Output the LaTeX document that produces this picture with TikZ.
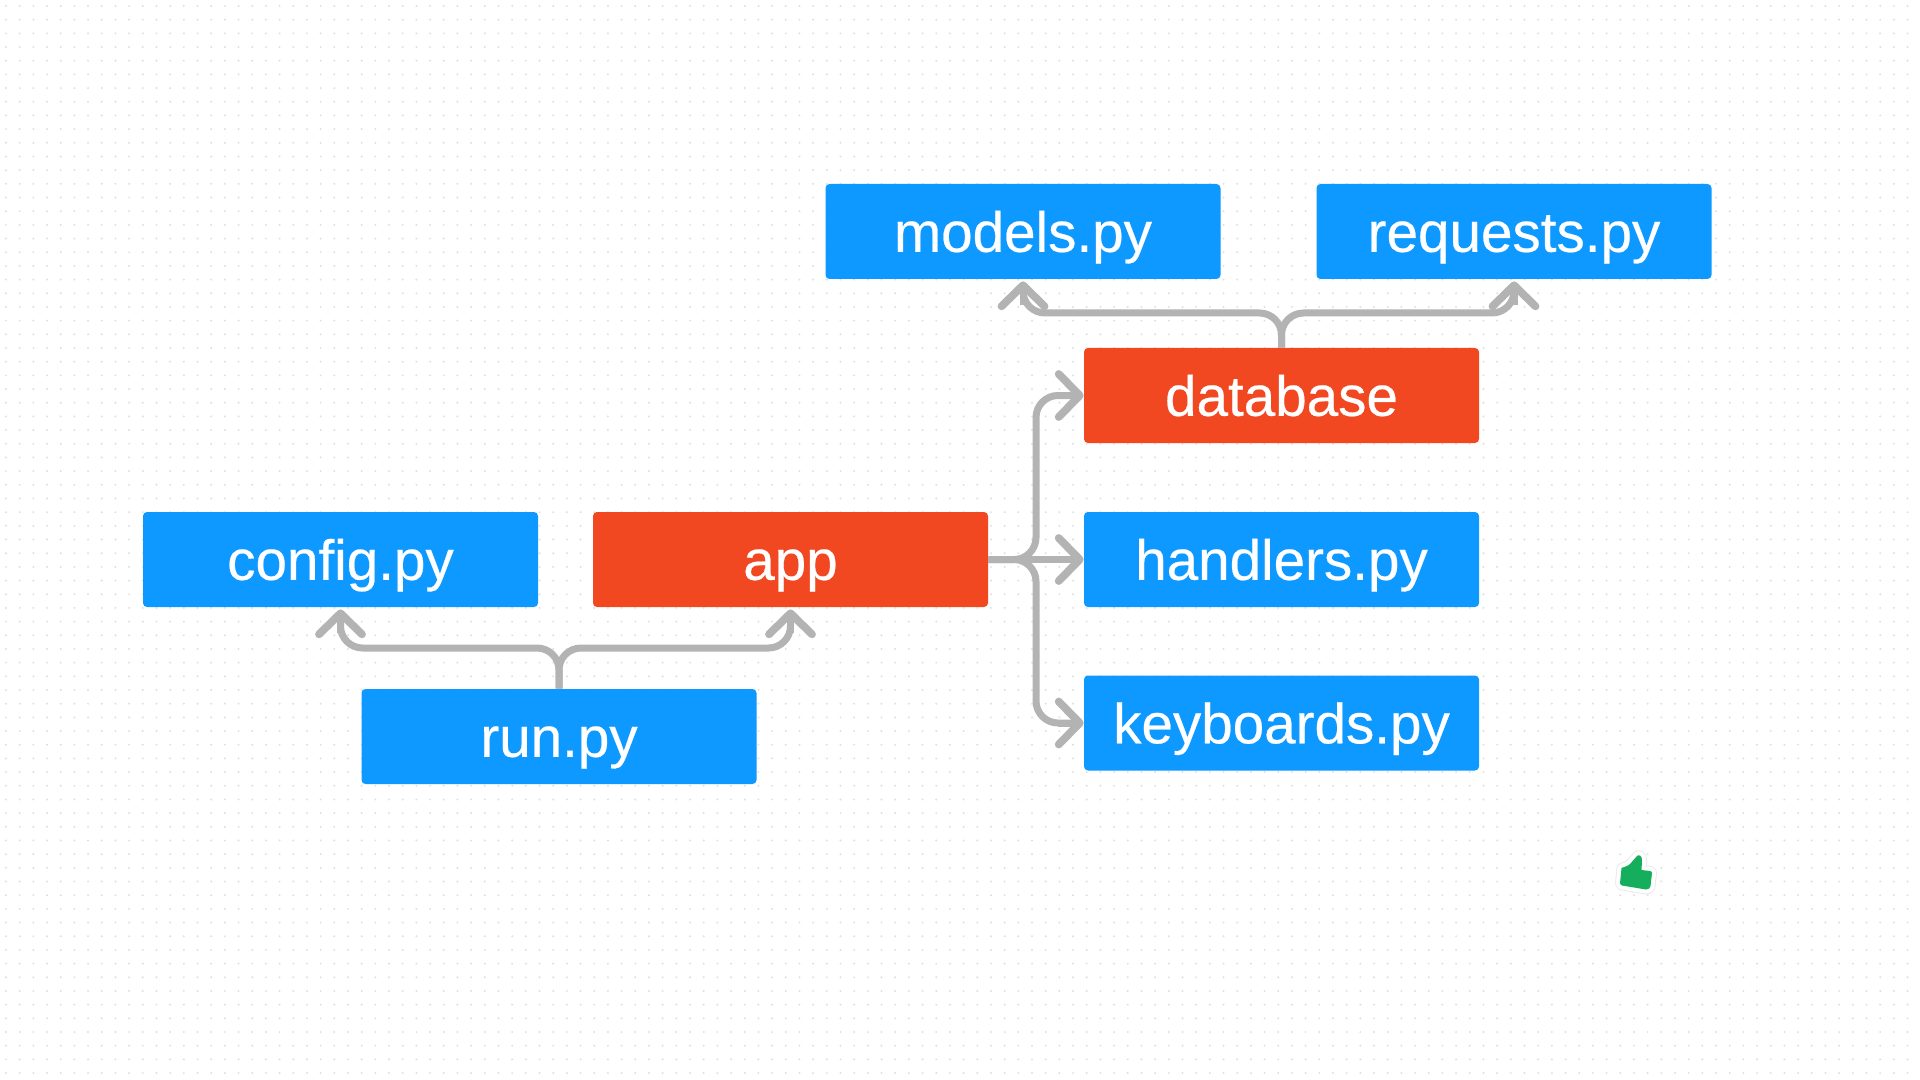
\documentclass[tikz,border=0pt]{standalone}
\usepackage{fontspec}
\setmainfont{Liberation Sans}
\newfontfamily\boxfont[FakeBold=0.4]{Liberation Sans}
\usetikzlibrary{arrows.meta,calc}
\definecolor{boxblue}{HTML}{0D99FF}
\definecolor{boxred}{HTML}{F24822}
\definecolor{linegray}{HTML}{B3B3B3}
\definecolor{dotgray}{HTML}{E0E0E0}
\definecolor{thumbgreen}{HTML}{14AE5C}
\tikzset{
  filebox/.style={rectangle,rounded corners=2pt,minimum width=197.5pt,minimum height=47.5pt,inner sep=0pt,
    text=white,font=\boxfont\fontsize{28.3}{30}\selectfont,text height=25.3pt,text depth=5pt,fill=boxblue},
  pkgbox/.style={filebox,fill=boxred},
  link/.style={draw=linegray,line width=3.5pt,rounded corners=11pt},
  upshaft/.style={link,shorten >=2pt},
  sideshaft/.style={link,shorten >=1pt},
  tipend/.style={draw=linegray,line width=3.5pt,
    -{Straight Barb[length=10.5pt,width=21.5pt,round,line width=3.9pt]}},
  uptip/.style={tipend,shorten >=1pt},
  dotrow/.style={draw=dotgray,line width=1.1pt,line cap=round,dash pattern=on 0pt off 6.84pt},
}
\begin{document}
\begin{tikzpicture}[x=0.5pt,y=-0.5pt]
\useasboundingbox (0,0) rectangle (1920,1080);
\fill[white] (0,0) rectangle (1920,1080);
% dot grid
\foreach \j in {0,...,78}{
  \draw[dotrow] (6,{6+13.68*\j}) -- (1920,{6+13.68*\j});
}
% boxes
\node[filebox] (models) at (1023,231.5) {models.py};
\node[filebox] (requests) at (1514,231.5) {requests.py};
\node[pkgbox] (database) at (1281.5,395.5) {database};
\node[filebox] (config) at (340.5,559.5) {config.py};
\node[pkgbox] (app) at (790.5,559.5) {app};
\node[filebox] (handlers) at (1281.5,559.5) {handlers.py};
\node[filebox] (keyboards) at (1281.5,723) {keyboards.py};
\node[filebox] (run) at (559,736.5) {run.py};
% connector bends
\coordinate (dbbus) at (0,313);
\coordinate (runbus) at (0,648);
\coordinate (appbus) at (1036,0);
% connector shafts
\draw[upshaft] (database.north) -- (database.north |- dbbus) -- (models.south |- dbbus) -- (models.south);
\draw[upshaft] (database.north) -- (database.north |- dbbus) -- (requests.south |- dbbus) -- (requests.south);
\draw[upshaft] (run.north) -- (run.north |- runbus) -- (config.south |- runbus) -- (config.south);
\draw[upshaft] (run.north) -- (run.north |- runbus) -- (app.south |- runbus) -- (app.south);
\draw[sideshaft] (app.east) -- (app.east -| appbus) -- (appbus |- database.west) -- (database.west);
\draw[sideshaft] (app.east) -- (handlers.west);
\draw[sideshaft] (app.east) -- (app.east -| appbus) -- (appbus |- keyboards.west) -- (keyboards.west);
% arrowheads
\foreach \t in {models,requests,config,app}{
  \draw[uptip] ([yshift=-13pt]\t.south) -- (\t.south);
}
\foreach \t in {database,handlers,keyboards}{
  \draw[tipend] ([xshift=-13pt]\t.west) -- (\t.west);
}
% thumb sticker
\def\thumbshape{(1621.5,868) -- (1620,883) .. controls (1620,884) and (1621,885) .. (1622,885.5)
  -- (1646,889.5) .. controls (1649,889.5) and (1650,888) .. (1650.5,886) -- (1652,873)
  .. controls (1652,872) and (1651,871) .. (1650,871) -- (1641.5,870) -- (1642,860)
  .. controls (1642,856) and (1639,854) .. (1637,856) -- (1630,864) .. controls (1628,866) and (1624,867) .. (1621.5,868) -- cycle}
\draw[black!8,line width=5pt,line join=round] \thumbshape;
\draw[white,line width=4pt,line join=round] \thumbshape;
\fill[thumbgreen] \thumbshape;
\end{tikzpicture}
\end{document}
